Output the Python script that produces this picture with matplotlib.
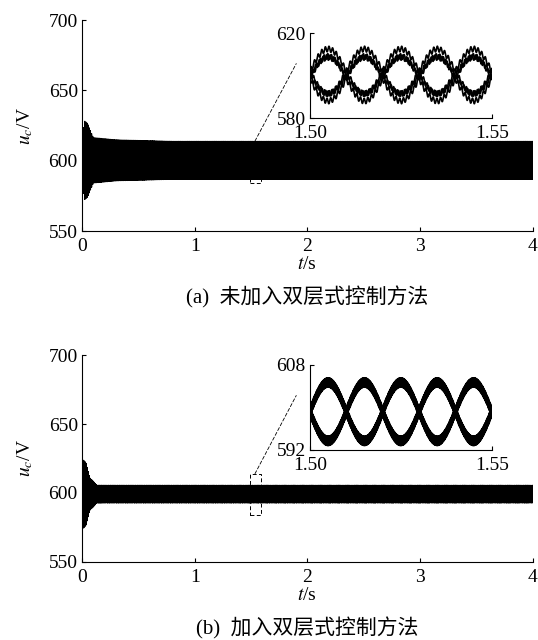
import numpy as np
import matplotlib
matplotlib.use("Agg")
import matplotlib.pyplot as plt
from matplotlib.patches import Rectangle, ConnectionPatch

plt.rcParams['font.family'] = ['Liberation Serif', 'Noto Sans CJK SC']
plt.rcParams['mathtext.fontset'] = 'stix'
plt.rcParams['font.size'] = 14

# ---- values ----
x_ticks = [0, 1, 2, 3, 4]
y_ticks = [550, 600, 650, 700]
captions = ["(a)  未加入双层式控制方法", "(b)  加入双层式控制方法"]

f_grid = 50.0          # Hz, 5 humps per 0.05 s in the zoom windows
zoom_box = [1.49, 584, 0.10, 30]   # t0, u0, width, height of dashed box

# (a) without control: three capacitors per arm, arms in antiphase
offset_a = [602.0, 598.5, 600.0]
amp_a = [10.5, 10.5, 8.5]
ripple_a = 1.3
ripple_f_a = 1000.0
env_t_a = [0.0, 0.02, 0.05, 0.10, 0.30, 0.80, 4.0]
env_gain_a = [0.5, 2.4, 2.2, 1.25, 1.1, 1.0, 1.0]
inset_ylim_a = [580, 620]

# (b) with control
offset_b = [599.2]
amp_b = [5.5]
ripple_b = 0.9
ripple_f_b = 5000.0
env_t_b = [0.0, 0.015, 0.035, 0.07, 0.13, 4.0]
env_gain_b = [1.0, 4.3, 3.9, 2.0, 1.0, 1.0]
inset_ylim_b = [592, 608]

t = np.arange(0, 4, 2e-5)


def arm_waves(offsets, amps, ripple, rf, env_t, env_gain):
    g = np.interp(t, env_t, env_gain)
    ph = 2 * np.pi * f_grid * (t - 1.5)
    waves = []
    for sign in (1, -1):
        for k in range(len(offsets)):
            rp = ripple * np.sin(2 * np.pi * rf * t + k * 2.1 + (sign < 0) * 1.3)
            waves.append(offsets[k] + sign * amps[k] * g * np.sin(ph) + rp)
    return waves


waves_a = arm_waves(offset_a, amp_a, ripple_a, ripple_f_a, env_t_a, env_gain_a)
waves_b = arm_waves(offset_b, amp_b, ripple_b, ripple_f_b, env_t_b, env_gain_b)

fig = plt.figure(figsize=(5.38, 6.4), dpi=100)

main_pos = [[0.1524, 0.639, 0.838, 0.3297], [0.1524, 0.1219, 0.838, 0.3234]]
inset_pos = [[0.576, 0.8156, 0.338, 0.1328], [0.576, 0.297, 0.338, 0.1328]]
inset_ylims = [inset_ylim_a, inset_ylim_b]
inset_lw = [1.2, 1.3]
caption_y = [-0.313, -0.319]


def style(ax):
    ax.spines['top'].set_visible(False)
    ax.spines['right'].set_visible(False)
    ax.tick_params(direction='in', length=3, width=0.8, pad=3)
    for s in ax.spines.values():
        s.set_linewidth(0.8)


for i, waves in enumerate([waves_a, waves_b]):
    ax = fig.add_axes(main_pos[i])
    for w in waves:
        ax.plot(t, w, color='black', lw=0.8)
    ax.set_xlim(0, 4)
    ax.set_ylim(550, 700)
    ax.set_xticks(x_ticks)
    ax.set_yticks(y_ticks)
    style(ax)
    ax.tick_params(axis='x', pad=5)
    ax.set_ylabel(r"$u_c$/V", labelpad=10)
    ax.set_xlabel(r"$t$/s", labelpad=1)
    ax.text(0.5, caption_y[i], captions[i], transform=ax.transAxes,
            ha='center', va='center', fontsize=15)
    ax.add_patch(Rectangle((zoom_box[0], zoom_box[1]), zoom_box[2], zoom_box[3],
                           fill=False, ls=(0, (4, 2.5)), lw=0.7, color='black'))

    axi = fig.add_axes(inset_pos[i])
    m = (t >= 1.5) & (t <= 1.55)
    for w in waves:
        axi.plot(t[m], w[m], color='black', lw=inset_lw[i])
    axi.set_xlim(1.5, 1.55)
    axi.set_ylim(*inset_ylims[i])
    axi.set_xticks([1.5, 1.55])
    axi.set_xticklabels(["1.50", "1.55"])
    axi.set_yticks(inset_ylims[i])
    style(axi)
    axi.tick_params(axis='x', pad=5)
    axi.tick_params(axis='y', pad=3)
    axi.patch.set_alpha(0)

    con = ConnectionPatch(xyA=(1.535, zoom_box[1] + zoom_box[3]), coordsA=ax.transData,
                          xyB=(-0.075, 0.64), coordsB=axi.transAxes,
                          ls=(0, (4, 2.5)), lw=0.6, color='black')
    fig.add_artist(con)

fig.savefig("out.png", dpi=100)
